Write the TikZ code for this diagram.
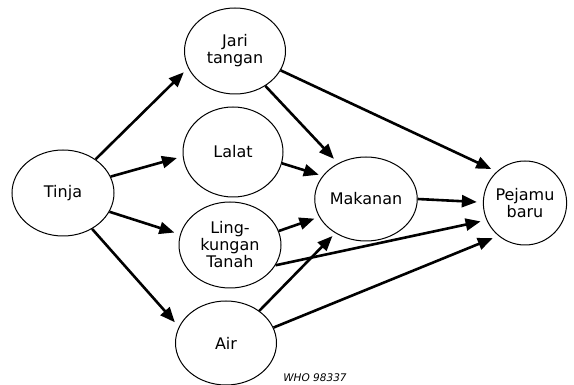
\documentclass[tikz,border=0pt]{standalone}
\usepackage{fontspec}
\setmainfont{DejaVu Sans}
\usetikzlibrary{arrows.meta,shapes.geometric}
\begin{document}
\begin{tikzpicture}[x=1pt,y=-1pt,
  blob/.style={ellipse,draw,line width=1pt,inner sep=0pt,align=center,
    font=\fontsize{16}{17}\selectfont},
  arr/.style={line width=2.6pt,-{Triangle[length=15pt,width=12pt]},shorten >=6pt}]
\useasboundingbox (0,0) rectangle (574,385);
\node[blob,minimum width=102pt,minimum height=86pt] (tinja) at (63,193) {Tinja};
\node[blob,minimum width=101pt,minimum height=86pt] (jari) at (235,51) {Jari\\tangan};
\node[blob,minimum width=100pt,minimum height=90pt] (lalat) at (233,152) {Lalat};
\node[blob,minimum width=102pt,minimum height=86pt] (ling) at (230,245) {Ling-\\kungan\\Tanah};
\node[blob,minimum width=101pt,minimum height=84pt] (air) at (226,343) {Air};
\node[blob,minimum width=100pt,minimum height=84pt] (mak) at (366,199) {Makanan};
\node[blob,minimum width=82pt,minimum height=84pt] (pej) at (525,203) {Pejamu\\baru};
\node[font=\itshape\fontsize{10.5}{12}\selectfont] (who) at (315,378) {WHO 98337};
\draw[arr] (tinja.46) -- (jari.200);
\draw[arr] (tinja.19) -- (lalat.185);
\draw[arr] (tinja.-22) -- (ling.168);
\draw[arr] (tinja.-51) -- (air.161);
\draw[arr] (jari.-49) -- (mak.128);
\draw[arr] (jari.-23) -- (pej.132);
\draw[arr,shorten >=4pt] (lalat.-13) -- (mak.152);
\draw[arr,shorten >=5pt] (ling.16) -- (mak.201);
\draw[arr] (ling.-24) -- (pej.204);
\draw[arr,shorten >=4pt] (air.44) -- (mak.228);
\draw[arr] (air.18) -- (pej.231);
\draw[arr] (mak.0) -- (pej.179);
\end{tikzpicture}
\end{document}
